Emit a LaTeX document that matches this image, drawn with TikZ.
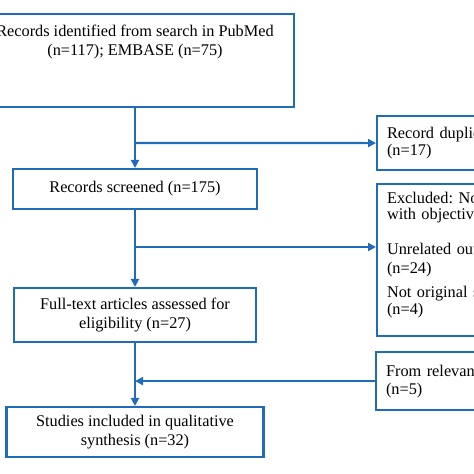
\documentclass[tikz,border=0pt]{standalone}
\usepackage{fontspec}
\setmainfont{Liberation Serif}
\usetikzlibrary{arrows.meta}
\definecolor{flowblue}{RGB}{30,108,186}
\frenchspacing

\begin{document}
\begin{tikzpicture}[x=1pt,y=-1pt,
	box/.style={draw=flowblue,line width=2.1pt,rectangle,inner sep=0pt},
	sidebox/.style={box,anchor=north west,minimum width=200pt,align=left,text width=180pt,inner xsep=10pt,inner ysep=0pt},
	arr/.style={draw=flowblue,line width=2.1pt,-{Triangle[length=8pt,width=8pt]}},
	every node/.style={font=\fontsize{16.3}{19}\selectfont}]
			\useasboundingbox (0,0) rectangle (474,474);
			\clip (0,0) rectangle (474,474);
			% main column
			\node[box,anchor=north,minimum width=318pt,minimum height=93pt] (search) at (135,13) {};
			\node[anchor=north,align=center] (searchtxt) at (135,21) {Records identified from search in PubMed\\(n=117); EMBASE (n=75)};
			\node[box,minimum width=244pt,minimum height=40pt] (screened) at (135,189) {Records screened (n=175)};
			\node[box,align=center,minimum width=242pt,minimum height=54pt] (fulltext) at (135,315) {Full-text articles assessed for\\eligibility (n=27)};
			\node[box,align=center,minimum width=257pt,minimum height=50pt] (included) at (135,432) {Studies included in qualitative\\synthesis (n=32)};
			% side boxes
			\node[sidebox,minimum height=54pt] (dup) at (376,115) {Record duplicates\\[-2pt](n=17)};
			\node[sidebox,minimum height=152pt] (excl) at (376,183) {Excluded: Not related\\[-3pt]with objective\\[16pt]Unrelated outcomes\\[0pt](n=24)\\[5pt]Not original studies\\[-2pt](n=4)\\[-6pt]\mbox{}};
			\node[sidebox,minimum height=58pt] (relevant) at (375,351) {From relevant references\\[-1pt](n=5)};
			% connectors
			\coordinate (b1) at (135,143);
			\coordinate (b2) at (135,247);
			\draw[arr] (search.south) -- (screened.north);
			\draw[arr] (b1) -- (dup.west);
			\draw[arr] (screened.south) -- (fulltext.north);
			\draw[arr] (b2) -- (b2 -| excl.west);
			\draw[arr] (fulltext.south) -- (included.north);
			\draw[arr] (relevant.west) -- (relevant.west -| fulltext.south);
		\end{tikzpicture}
\end{document}
